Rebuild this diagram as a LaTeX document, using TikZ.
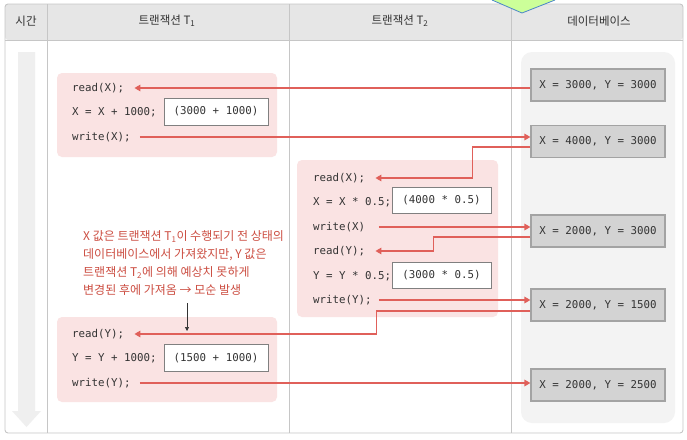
\documentclass[tikz,border=0pt]{standalone}
\usepackage{fontspec}
\setmainfont{Noto Sans CJK KR}
\newfontfamily\monof{DejaVu Sans Mono}
\newfontfamily\krf{Noto Sans CJK KR}
\usetikzlibrary{arrows.meta,calc}
\definecolor{hdr}{HTML}{E6E6E6}
\definecolor{bord}{HTML}{C6C6C6}
\definecolor{pinkbg}{HTML}{FAE3E3}
\definecolor{redl}{HTML}{E0605A}
\definecolor{annot}{HTML}{CC4E42}
\definecolor{dbpanel}{HTML}{F3F3F3}
\definecolor{dbbox}{HTML}{D3D3D3}
\definecolor{dbbord}{HTML}{A3A3A3}
\definecolor{txt}{HTML}{333333}
\definecolor{timearr}{HTML}{EFEFEF}
\definecolor{gfill}{HTML}{CCFF99}
\definecolor{gline}{HTML}{4A86C8}
\begin{document}
\begin{tikzpicture}[x=1pt,y=-1pt,
  code/.style={anchor=west, inner sep=0pt, font=\monof\fontsize{10.8}{12}\selectfont, text=txt},
  valbox/.style={draw=black!50, line width=0.8pt, fill=white, minimum height=27pt, inner sep=0pt, font=\monof\fontsize{10.8}{12}\selectfont, text=txt},
  dbstate/.style={draw=dbbord, line width=1.2pt, fill=dbbox, minimum width=134pt, minimum height=32pt, inner sep=0pt, font=\monof\fontsize{10.8}{12}\selectfont, text=txt},
  hdrtext/.style={font=\krf\fontsize{11.5}{13}\selectfont, text=txt, inner sep=0pt},
  pinkpanel/.style={fill=pinkbg, rounded corners=5pt},
  redarr/.style={draw=redl, line width=1.8pt, -{Triangle[length=6pt,width=6.5pt]}},
]
\useasboundingbox (0,0) rectangle (687,439);
% table
\fill[white] (5,4) rectangle (683,433);
\fill[hdr, rounded corners=3pt] (5,4) -- (683,4) -- (683,40) -- (5,40) -- cycle;
\draw[bord, line width=0.9pt, rounded corners=3pt] (5,4) rectangle (683,433);
\draw[bord, line width=0.9pt] (5,40) -- (683,40);
\foreach \xx in {47,289,511} \draw[bord, line width=0.9pt] (\xx,4) -- (\xx,433);
% green shape at top
\fill[gfill] (492,0) -- (522,13) -- (555,0) -- cycle;
\draw[gline, line width=0.8pt] (492,0) -- (522,13) -- (555,0);
% headers
\node[hdrtext] (h0) at (26,21) {시간};
\node[hdrtext] (h1) at (167,21) {트랜잭션 T\textsubscript{1}};
\node[hdrtext] (h2) at (400,21) {트랜잭션 T\textsubscript{2}};
\node[hdrtext] (h3) at (599,21) {데이터베이스};
% time arrow
\fill[timearr] (18,52) -- (35,52) -- (35,411) -- (41,411) -- (26.5,427) -- (12,411) -- (18,411) -- cycle;
% db panel
\fill[dbpanel, rounded corners=11pt] (521,52) rectangle (675,423);
\node[dbstate] (db1) at (598,85) {X = 3000, Y = 3000};
\node[dbstate] (db2) at (598,141.5) {X = 4000, Y = 3000};
\node[dbstate] (db3) at (598,231) {X = 2000, Y = 3000};
\node[dbstate] (db4) at (598,305) {X = 2000, Y = 1500};
\node[dbstate] (db5) at (598,385) {X = 2000, Y = 2500};
% T1 panel 1
\fill[pinkpanel] (57,73) rectangle (277,157);
\node[code] (r1x) at (72,88) {read(X);};
\node[code] (c1x) at (72,112) {X = X + 1000;};
\node[code] (w1x) at (72,137) {write(X);};
\node[valbox, minimum width=104pt] (v1x) at (216,111.5) {(3000 + 1000)};
% T2 panel
\fill[pinkpanel] (297,160) rectangle (498,317);
\node[code] (r2x) at (313,178) {read(X);};
\node[code] (c2x) at (313,202) {X = X * 0.5;};
\node[code] (w2x) at (313,227) {write(X)};
\node[code] (r2y) at (313,251) {read(Y);};
\node[code] (c2y) at (313,276) {Y = Y * 0.5;};
\node[code] (w2y) at (313,300) {write(Y);};
\node[valbox, minimum width=99pt, minimum height=26pt] (v2x) at (441.5,200) {(4000 * 0.5)};
\node[valbox, minimum width=99pt, minimum height=26pt] (v2y) at (441.5,275) {(3000 * 0.5)};
% T1 panel 2
\fill[pinkpanel] (57,317) rectangle (277,402);
\node[code] (r1y) at (72,334) {read(Y);};
\node[code] (c1y) at (72,358) {Y = Y + 1000;};
\node[code] (w1y) at (72,383) {write(Y);};
\node[valbox, minimum width=104pt] (v1y) at (216,358) {(1500 + 1000)};
% annotation
\node[anchor=north west, align=left, inner sep=0pt, text=annot,
      font=\krf\fontsize{12}{18}\selectfont] (note) at (83,230.5)
  {X 값은 트랜잭션 T\textsubscript{1}이 수행되기 전 상태의\\
   데이터베이스에서 가져왔지만, Y 값은\\
   트랜잭션 T\textsubscript{2}에 의해 예상치 못하게\\
   변경된 후에 가져옴 → 모순 발생};
\coordinate (ntop) at (187,303);
\coordinate (nbot) at (187,331);
\draw[black!80, line width=0.7pt, -{Triangle[length=4pt,width=4pt]}] (ntop) -- (nbot);
% connectors
\draw[redarr] (db1.west |- r1x.east) -- ([xshift=10pt]r1x.east);
\draw[redarr] ([xshift=9pt]w1x.east) -- (db2.west |- w1x.east);
\draw[redarr] ([yshift=-5.5pt]db2.west) -- ++(-58pt,0) |- ([xshift=10pt]r2x.east);
\draw[redarr] ([xshift=13.5pt]w2x.east) -- (db3.west |- w2x.east);
\draw[redarr] ([yshift=-6pt]db3.west) -- ++(-97pt,0) |- ([xshift=10pt]r2y.east);
\draw[redarr] ([xshift=7pt]w2y.east) -- (db4.west |- w2y.east);
\draw[redarr] ([yshift=-6pt]db4.west) -- ++(-154pt,0) |- ([xshift=10pt]r1y.east);
\draw[redarr] ([xshift=9pt]w1y.east) -- (db5.west |- w1y.east);
\end{tikzpicture}
\end{document}
